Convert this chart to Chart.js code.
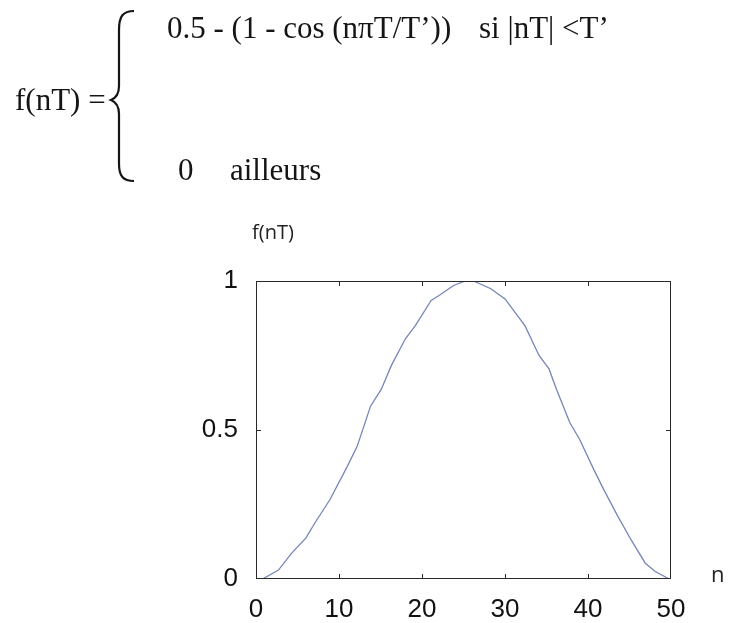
<!DOCTYPE html>
<html>
<head>
<meta charset="utf-8">
<script src="https://cdn.jsdelivr.net/npm/chart.js@4/dist/chart.umd.min.js"></script>
<style>
  html, body { margin: 0; padding: 0; background: #fff; }
  body { width: 737px; height: 623px; position: relative; overflow: hidden; }
  #wrap { position: absolute; left: 0; top: 0; width: 737px; height: 623px; }
  .eq { position: absolute; font-family: "Liberation Serif", "Times New Roman", serif; font-size: 31px; line-height: 1; color: #151515; white-space: pre; }
  .lbl { position: absolute; font-family: "Open Sans", sans-serif; line-height: 1; color: #222; white-space: pre; }
  svg { position: absolute; left: 0; top: 0; }
</style>
</head>
<body>
<div id="wrap"><canvas id="fenetre-chart" width="737" height="623"></canvas></div>

<!-- définition de la fenêtre -->
<div class="eq" style="left:167px; top:12px;">0.5 - (1 - cos (nπT/T’))</div>
<div class="eq" style="left:479px; top:12px;">si |nT| &lt;T’</div>
<div class="eq" style="left:15px; top:84px;">f(nT) =</div>
<div class="eq" style="left:178px; top:154px;">0</div>
<div class="eq" style="left:230px; top:154px;">ailleurs</div>
<svg width="160" height="200">
  <path d="M134,11 C123,11 119,16 119,30 L119,86 C119,94 116,98 111,100 C116,102 119,106 119,114 L119,164 C119,176 123,181 134,181"
        fill="none" stroke="#151515" stroke-width="2.2"/>
</svg>
<div class="lbl" style="left:252px; top:222px; font-size:20px;">f(nT)</div>
<div class="lbl" style="left:711px; top:562px; font-size:22px;">n</div>

<script>
// échantillons
const nValeurs = [0.8, 2.7, 4.3, 6.0, 7.2, 8.9, 11.0, 12.2, 13.8, 15.1, 16.3, 18.0, 19.2, 21.1, 22.1, 23.8, 25.2,
                  26.2, 28.3, 30.0, 32.4, 34.1, 35.3, 36.2, 37.8, 39.0, 40.7, 41.9, 43.6, 45.2, 46.9, 48.1, 49.8];
const fValeurs = [0, 0.03, 0.087, 0.137, 0.193, 0.266, 0.378, 0.446, 0.58, 0.637, 0.716, 0.806, 0.85, 0.935, 0.952, 0.985, 1,
                  1, 0.974, 0.94, 0.85, 0.75, 0.705, 0.637, 0.525, 0.468, 0.367, 0.3, 0.21, 0.131, 0.053, 0.025, 0];
const ticksN = [0, 10, 20, 30, 40, 50];
const ticksF = [0, 0.5, 1];

// cadre et petites graduations vers l'intérieur
const cadre = {
    id: 'cadre',
    afterDatasetsDraw(chart) {
        const { ctx, chartArea: a, scales } = chart;
        const lg = 5;
        ctx.save();
        ctx.strokeStyle = '#2a2a2a';
        ctx.lineWidth = 1;
        ctx.strokeRect(a.left + 0.5, a.top + 0.5, a.right - a.left - 1, a.bottom - a.top - 1);
        ctx.beginPath();
        ticksN.slice(1, -1).forEach(v => {
            const x = Math.round(scales.x.getPixelForValue(v)) + 0.5;
            ctx.moveTo(x, a.bottom); ctx.lineTo(x, a.bottom - lg);
            ctx.moveTo(x, a.top); ctx.lineTo(x, a.top + lg);
        });
        ticksF.slice(1, -1).forEach(v => {
            const y = Math.round(scales.y.getPixelForValue(v)) + 0.5;
            ctx.moveTo(a.left, y); ctx.lineTo(a.left + lg, y);
            ctx.moveTo(a.right, y); ctx.lineTo(a.right - lg, y);
        });
        ctx.stroke();
        ctx.restore();
    }
};

const ctx = document.getElementById('fenetre-chart').getContext('2d');
const chartFenetre = new Chart(ctx, {
    type: 'line',
    data: {
        datasets: [{
            data: nValeurs.map((n, i) => ({ x: n, y: fValeurs[i] })),
            borderColor: 'rgb(118, 134, 184)',
            borderWidth: 1.3,
            pointRadius: 0,
            tension: 0,
            fill: false
        }]
    },
    options: {
        responsive: false,
        animation: false,
        layout: { padding: { left: 0, top: 281, right: 66, bottom: 0 } },
        plugins: { legend: { display: false }, tooltip: { enabled: false } },
        scales: {
            x: {
                type: 'linear',
                min: 0,
                max: 50,
                afterBuildTicks: s => { s.ticks = ticksN.map(v => ({ value: v })); },
                afterFit: s => { s.height = 44; },
                grid: { display: false },
                border: { display: false },
                ticks: { color: '#111', padding: 7, maxRotation: 0, font: { family: 'Liberation Sans', size: 26 } }
            },
            y: {
                min: 0,
                max: 1,
                afterBuildTicks: s => { s.ticks = ticksF.map(v => ({ value: v })); },
                afterFit: s => { s.width = 256; },
                grid: { display: false },
                border: { display: false },
                ticks: {
                    color: '#111',
                    padding: 10,
                    font: { family: 'Liberation Sans', size: 26 },
                    callback: v => String(v)
                }
            }
        }
    },
    plugins: [cadre]
});
</script>
</body>
</html>
